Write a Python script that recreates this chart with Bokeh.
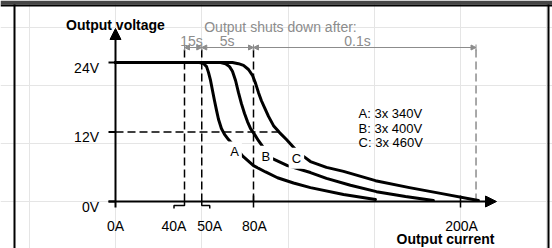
from bokeh.plotting import figure
from bokeh.models import Range1d, Arrow, NormalHead, BoxAnnotation
from bokeh.core.properties import value
from bokeh.embed import file_html
from bokeh.resources import INLINE

# ---------------- data ----------------
current_ticks = [0, 40, 50, 80, 200]
current_labels = ["0A", "40A", "50A", "80A", "200A"]
voltage_ticks = [0, 12, 24]
voltage_labels = ["0V", "12V", "24V"]
shutdown_bounds = [40, 50, 80, 209]
shutdown_times = ["15s", "5s", "0.1s"]
curve_names = ["A", "B", "C"]
legend_texts = ["A: 3x 340V", "B: 3x 400V", "C: 3x 460V"]

a_current = [0, 48.7, 51.0, 52.8, 53.9, 55.1, 56.2, 57.4, 58.6, 59.7, 61.4, 63.2, 65.5,
             69.0, 73.6, 80.0, 87.0, 93.9, 103.2, 113.0, 132.2, 150.7]
a_voltage = [24, 24.0, 23.83, 23.3, 22.3, 20.9, 19.2, 17.4, 15.7, 14.2, 12.6, 11.6, 10.7,
             9.5, 7.9, 6.2, 5.1, 4.1, 3.2, 2.4, 1.2, 0.35]

b_current = [0, 60.9, 63.8, 66.1, 67.8, 69.6, 71.3, 73.0, 74.8, 76.5, 78.3, 80.6, 82.9,
             87.0, 91.0, 99.7, 113.0, 122.3, 136.2, 151.3, 168.1, 184.3]
b_voltage = [24, 24.0, 23.8, 23.3, 22.5, 20.9, 18.8, 16.9, 15.2, 13.8, 12.6, 11.6, 10.5,
             8.8, 7.4, 6.2, 5.0, 4.0, 2.8, 1.7, 0.86, 0.17]

c_current = [0, 67.8, 71.3, 74.2, 77.1, 79.4, 81.2, 82.9, 84.6, 86.4, 88.7, 91.6, 95.1,
             99.1, 104.9, 109.0, 113.0, 122.3, 132.2, 150.7, 170.4, 188.4, 210.4]
c_voltage = [24, 24.0, 23.8, 23.5, 22.8, 21.8, 20.4, 18.8, 17.4, 16.2, 14.7, 13.1, 11.9,
             10.7, 8.8, 7.8, 6.9, 5.9, 5.2, 3.6, 2.4, 1.4, 0.17]

# ---------------- layout ----------------
PX_A = 1.725   # pixels per ampere
PX_V = 5.79    # pixels per volt
W, H = 552, 248
ORX, ORY = 115, 201   # origin position inside canvas (px)

def dx(px):
    return px / PX_A

def dy(px):
    return px / PX_V

x_start = dx(-ORX)
y_end = dy(ORY)

FONT = value("Liberation Sans")
GRAY = "#8c8c8c"

p = figure(width=W, height=H, output_backend="svg", toolbar_location=None,
           x_axis_location=None, y_axis_location=None,
           x_range=Range1d(x_start, x_start + dx(W)),
           y_range=Range1d(y_end - dy(H), y_end),
           min_border=0, min_border_left=0, min_border_right=0,
           min_border_top=0, min_border_bottom=0)
p.outline_line_color = None
p.background_fill_color = "white"
p.border_fill_color = "white"

# frame: dark header bar and borders
def box(l, r, t, b, color):
    p.add_layout(BoxAnnotation(left=dx(l - ORX), right=dx(r - ORX),
                               top=dy(ORY - t), bottom=dy(ORY - b),
                               fill_color=color, fill_alpha=1, line_color=None))

box(0, W, 0, 4, "#454545")
box(0, W, 4, 6, "black")
box(13, 15, 4, H, "black")
box(547, 549, 4, H, "black")

DIM_Y = dy(154)

# dashed guide lines
black_b = shutdown_bounds[:3]
p.segment(x0=black_b, y0=[0] * 3, x1=black_b, y1=[DIM_Y] * 3,
          line_color="black", line_width=1.5, line_dash="8 4")
p.segment(x0=[shutdown_bounds[3]], y0=[0], x1=[shutdown_bounds[3]], y1=[DIM_Y],
          line_color=GRAY, line_width=1.5, line_dash="8 4")
p.segment(x0=[0], y0=[voltage_ticks[1]], x1=[94.5], y1=[voltage_ticks[1]],
          line_color="black", line_width=1.5, line_dash="8 4")

# curves
for xs, ys in ((a_current, a_voltage), (b_current, b_voltage), (c_current, c_voltage)):
    p.line(xs, ys, line_color="black", line_width=3, line_join="round", line_cap="round")

# curve labels with white background (create the gaps)
lab_x = [69.0, 87.1, 104.9]
lab_y = [9.33 - dy(4.5), 8.69 - dy(5), 8.34 - dy(5)]
p.text(x=lab_x, y=lab_y, text=curve_names, text_font=FONT, text_font_size="13px",
       text_align="center", text_baseline="alphabetic", text_color="black",
       background_fill_color="white", padding=3)

# axes
p.add_layout(Arrow(end=NormalHead(size=11, fill_color="black", line_color="black", line_width=1),
                   x_start=0, y_start=-dy(6), x_end=0, y_end=dy(173),
                   line_color="black", line_width=2))
p.add_layout(Arrow(end=NormalHead(size=11, fill_color="black", line_color="black", line_width=1),
                   x_start=-dx(7), y_start=0, x_end=dx(381), y_end=0,
                   line_color="black", line_width=2))

# y ticks
p.segment(x0=[-dx(7)] * 3, y0=voltage_ticks, x1=[0] * 3, y1=voltage_ticks,
          line_color="black", line_width=2)
# x ticks (80A, 200A)
xt = [current_ticks[3], current_ticks[4]]
p.segment(x0=xt, y0=[-dy(6)] * 2, x1=xt, y1=[dy(6)] * 2, line_color="black", line_width=1.5)

# leader lines for 40A / 50A
lab40 = current_ticks[1] - dx(10.5)
lab50 = current_ticks[2] + dx(8)
p.multi_line(xs=[[current_ticks[1], current_ticks[1], lab40, lab40],
                 [current_ticks[2], current_ticks[2], lab50, lab50]],
             ys=[[0, -dy(4), -dy(4), -dy(7)], [0, -dy(4), -dy(4), -dy(7)]],
             line_color="black", line_width=1.5)

# tick labels
xlab_x = [current_ticks[0], lab40, lab50, current_ticks[3] + dx(1), current_ticks[4] + dx(1)]
p.text(x=xlab_x, y=[-dy(24.7)] * 5, text=current_labels, text_font=FONT,
       text_font_size="14px", text_align="center", text_baseline="alphabetic",
       text_color="black")
p.text(x=[-dx(16.5)] * 3, y=[v - dy(5) for v in voltage_ticks], text=voltage_labels,
       text_font=FONT, text_font_size="14px", text_align="right",
       text_baseline="alphabetic", text_color="black")

# axis titles
p.text(x=[0], y=[dy(177)], text=["Output voltage"], text_font=FONT, text_font_size="14px",
       text_font_style="bold", text_align="center", text_baseline="alphabetic",
       text_color="black")
p.text(x=[191.3], y=[-dy(37.5)], text=["Output current"], text_font=FONT,
       text_font_size="14px", text_font_style="bold", text_align="center",
       text_baseline="alphabetic", text_color="black")

# shutdown dimension line
for i in range(3):
    p.add_layout(Arrow(start=NormalHead(size=5, fill_color=GRAY, line_color=GRAY, line_width=1),
                       end=NormalHead(size=5, fill_color=GRAY, line_color=GRAY, line_width=1),
                       x_start=shutdown_bounds[i], y_start=DIM_Y,
                       x_end=shutdown_bounds[i + 1], y_end=DIM_Y,
                       line_color=GRAY, line_width=1))
p.segment(x0=shutdown_bounds, y0=[DIM_Y - dy(3)] * 4, x1=shutdown_bounds,
          y1=[DIM_Y + dy(3)] * 4, line_color=GRAY, line_width=1)

time_x = [44.1, 64.7, 140.3]
p.text(x=time_x, y=[dy(161)] * 3, text=shutdown_times, text_font=FONT,
       text_font_size="14px", text_align="center", text_baseline="alphabetic",
       text_color=GRAY)
p.text(x=[95.65], y=[dy(174.5)], text=["Output shuts down after:"], text_font=FONT,
       text_font_size="14px", text_align="center", text_baseline="alphabetic",
       text_color=GRAY)

# legend
p.text(x=[140.9] * 3, y=[dy(88.3), dy(73.5), dy(58.7)], text=legend_texts,
       text_font=FONT, text_font_size="13px", text_align="left",
       text_baseline="alphabetic", text_color="black")

open("out.html", "w").write(file_html(p, INLINE))
